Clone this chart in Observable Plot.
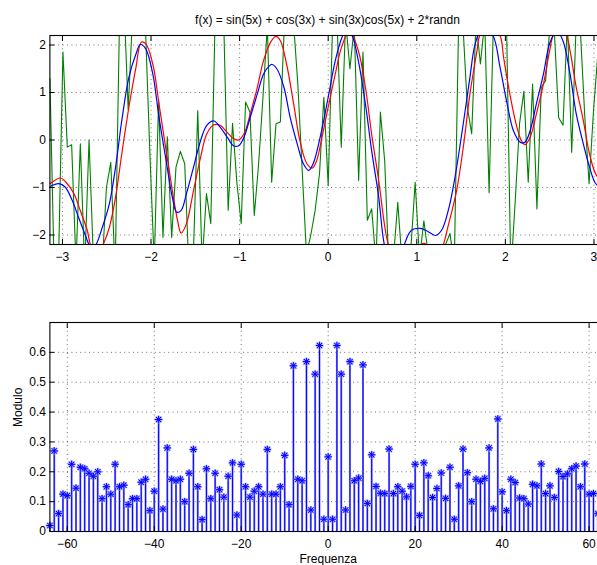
<!DOCTYPE html>
<html><head><meta charset="utf-8">
<script src="https://cdn.jsdelivr.net/npm/d3@7"></script>
<script src="https://cdn.jsdelivr.net/npm/@observablehq/plot@0.6"></script>
<style>
html,body{margin:0;padding:0;overflow:hidden;background:#fff;}
#wrap{position:relative;width:597px;height:565px;overflow:hidden;font-family:"Liberation Sans",Arial,sans-serif;}
#title{position:absolute;top:13px;left:0;width:655px;text-align:center;font-size:12px;line-height:14px;color:#000;z-index:2;}
#wrap svg{display:block;max-width:none !important;}
</style></head><body>
<div id="wrap"><div id="title">f(x) = sin(5x) + cos(3x) + sin(3x)cos(5x) + 2*randn</div><div id="top"></div><div id="bottom"></div></div>
<script>
// ---- top panel data ----
const noisyY = [1.3,-2.8,-2.5,1.85,-0.15,-0.1,-2.6,-0.08,-2.7,0.0,-2.5,-2.5,-2.7,-1.0,-0.47,-2.8,
 2.5,3.0,0.64,2.6,2.8,2.5,2.3,-0.3,-2.6,0.85,-2.05,0.07,-2.05,-0.57,-0.24,-0.5,
 -2.8,-2.4,0.62,-2.6,-1.13,-1.76,2.6,2.8,2.4,-1.48,0.35,-0.9,-1.76,0.8,0.59,-1.59,
 -0.5,0.9,2.4,-0.89,0.34,0.38,2.6,2.5,2.5,1.2,-0.6,-2.4,-2.0,-1.48,-0.71,0.9,
 -0.96,2.4,2.6,-0.15,2.5,1.5,2.4,-0.85,1.85,-1.69,-1.45,-2.6,0.59,-0.45,-2.8,-2.5,
 -1.31,-2.6,-2.4,-2.3,-0.89,-2.5,-1.7,-2.4,-2.5,-2.3,-2.5,-2.2,-1.97,-2.6,2.5,2.4,
 0.69,0.13,2.5,1.6,2.5,-1.11,2.5,2.6,2.5,2.5,-2.8,-1.3,0.34,1.03,-0.89,1.18,
 -1.45,1.11,1.25,2.4,2.3,0.47,0.31,2.5,-0.26,2.4,2.3,0.5,-0.92,0.6,1.8,1.0];
const noisyX = noisyY.map((_, k) => -Math.PI + k * 2 * Math.PI / 128);

const redX = [-3.1416,-3.02,-2.96,-2.87,-2.80,-2.72,-2.685,-2.61,-2.54,-2.47,-2.40,-2.33,-2.25,-2.17,-2.11,-2.06,-1.98,-1.91,-1.83,-1.76,-1.70,-1.66,-1.60,-1.52,-1.44,-1.37,-1.29,-1.22,-1.14,-1.07,-1.01,-0.95,-0.88,-0.80,-0.73,-0.65,-0.59,-0.54,-0.47,-0.39,-0.32,-0.24,-0.18,-0.13,-0.07,0.0,0.08,0.15,0.24,0.34,0.42,0.49,0.57,0.64,0.68,0.78,0.92,1.08,1.22,1.30,1.35,1.45,1.53,1.60,1.68,1.71,1.82,1.94,1.98,2.05,2.13,2.18,2.22,2.28,2.35,2.43,2.50,2.54,2.61,2.69,2.73,2.80,2.88,2.95,3.03,3.1416];
const redY = [-0.92,-0.8,-0.89,-1.13,-1.48,-1.9,-2.2,-2.45,-2.2,-1.84,-1.2,-0.29,0.69,1.53,2.06,2.03,1.6,0.76,-0.22,-1.06,-1.7,-1.96,-1.76,-1.06,-0.36,0.13,0.32,0.31,0.16,0.03,0.0,0.13,0.55,1.11,1.67,2.06,2.18,2.09,1.6,0.76,-0.01,-0.5,-0.59,-0.43,0.06,0.69,1.39,1.95,2.3,1.88,1.11,0.13,-0.85,-1.84,-2.2,-2.55,-2.5,-2.17,-2.5,-2.2,-1.84,-1.06,-0.08,0.97,1.88,2.2,2.5,2.2,1.74,0.97,0.27,-0.01,-0.1,0.06,0.55,1.18,1.88,2.2,2.35,2.2,1.88,1.11,0.41,-0.29,-0.75,-0.92];

const blueX = [-3.1416,-3.04,-2.97,-2.89,-2.82,-2.74,-2.70,-2.66,-2.62,-2.55,-2.47,-2.40,-2.33,-2.25,-2.17,-2.12,-2.06,-1.98,-1.91,-1.83,-1.76,-1.71,-1.66,-1.60,-1.52,-1.44,-1.37,-1.29,-1.22,-1.14,-1.07,-1.01,-0.95,-0.88,-0.80,-0.73,-0.67,-0.635,-0.58,-0.50,-0.43,-0.35,-0.28,-0.22,-0.17,-0.08,0.0,0.08,0.15,0.21,0.27,0.34,0.42,0.49,0.57,0.62,0.66,0.75,0.82,0.86,0.94,1.04,1.12,1.21,1.28,1.36,1.43,1.53,1.60,1.66,1.75,1.86,1.94,2.02,2.09,2.17,2.22,2.28,2.35,2.43,2.50,2.58,2.65,2.73,2.80,2.88,2.95,3.03,3.1416];
const blueY = [-0.98,-0.92,-0.99,-1.27,-1.62,-2.01,-2.2,-2.28,-2.2,-1.84,-1.34,-0.57,0.41,1.32,1.81,2.01,1.92,1.39,0.48,-0.43,-1.2,-1.52,-1.48,-1.13,-0.57,-0.01,0.31,0.4,0.27,0.06,-0.12,-0.12,0.06,0.48,0.97,1.39,1.55,1.59,1.5,1.11,0.48,-0.08,-0.5,-0.64,-0.5,0.15,0.9,1.67,2.13,2.35,2.2,1.67,0.76,-0.22,-1.2,-2.05,-2.4,-2.7,-2.5,-2.2,-1.9,-1.86,-1.92,-2.01,-1.9,-1.45,-0.8,0.41,1.32,2.03,2.4,2.2,1.53,0.76,0.2,-0.05,-0.05,0.2,0.76,1.39,2.03,2.3,2.09,1.39,0.55,-0.08,-0.57,-0.94,-1.0];

const topXTicks = [-3,-2,-1,0,1,2,3];
const topYTicks = [-2,-1,0,1,2];

// ---- bottom panel data ----
const freq = d3.range(-64, 64);
const modulo = [0.02,0.27,0.06,0.125,0.12,0.225,0.145,0.215,0.21,0.195,0.185,0.2,0.11,0.15,0.125,0.225,
 0.15,0.155,0.09,0.11,0.11,0.165,0.175,0.07,0.135,0.375,0.075,0.28,0.175,0.17,0.175,0.1,
 0.195,0.275,0.15,0.04,0.21,0.11,0.195,0.14,0.115,0.185,0.23,0.055,0.225,0.15,0.115,0.135,
 0.15,0.125,0.275,0.125,0.125,0.15,0.255,0.09,0.555,0.175,0.17,0.569,0.072,0.527,0.623,0.041,
 0.25,0.041,0.623,0.527,0.072,0.569,0.17,0.179,0.558,0.094,0.257,0.151,0.128,0.127,0.276,0.127,
 0.15,0.135,0.116,0.151,0.225,0.054,0.23,0.187,0.114,0.144,0.196,0.111,0.215,0.041,0.153,0.276,
 0.197,0.1,0.175,0.168,0.178,0.28,0.076,0.377,0.133,0.07,0.175,0.164,0.112,0.11,0.092,0.158,
 0.153,0.226,0.127,0.153,0.114,0.201,0.184,0.193,0.21,0.219,0.15,0.226,0.125,0.127,0.06,0.27];
const botXTicks = [-60,-40,-20,0,20,40,60];
const botYTicks = [0,0.1,0.2,0.3,0.4,0.5,0.6];

const noisy = noisyX.map((x, i) => ({x, y: noisyY[i]}));
const red = redX.map((x, i) => ({x, y: redY[i]}));
const blue = blueX.map((x, i) => ({x, y: blueY[i]}));
const stems = freq.map((f, i) => ({f, m: modulo[i]}));

const font = {fontFamily: "'Liberation Sans', Arial, sans-serif", fontSize: "12px", background: "#fff", color: "#000", overflow: "visible", maxWidth: "none"};
const grid = {stroke: "#000", strokeOpacity: 0.55, strokeDasharray: "1,3.4"};
const noText = () => "";
const fmt = d => String(d).replace("-", "\u2212");

function axes(xt, yt) {
  return [
    Plot.gridX(xt, grid),
    Plot.gridY(yt, grid),
    Plot.axisX(xt, {anchor: "bottom", tickSize: 0, tickPadding: 8, fontSize: 12, tickFormat: fmt}),
    Plot.axisY(yt, {anchor: "left", tickSize: 0, tickPadding: 4, fontSize: 12, tickFormat: fmt}),
  ];
}
function ticks(xt, yt) {
  return [
    Plot.axisX(xt, {anchor: "bottom", tickSize: -5, tickFormat: noText}),
    Plot.axisX(xt, {anchor: "top", tickSize: -5, tickFormat: noText}),
    Plot.axisY(yt, {anchor: "left", tickSize: -5, tickFormat: noText}),
    Plot.axisY(yt, {anchor: "right", tickSize: -5, tickFormat: noText}),
    Plot.frame({stroke: "#000", strokeWidth: 1.1})
  ];
}

const topChart = Plot.plot({
  width: 620, height: 265,
  marginLeft: 49.4, marginRight: 14, marginTop: 35, marginBottom: 21,
  style: font,
  x: {domain: [-Math.PI, Math.PI], label: null},
  y: {domain: [-2.2, 2.2], label: null},
  marks: [
    ...axes(topXTicks, topYTicks),
    Plot.line(noisy, {x: "x", y: "y", stroke: "#008000", strokeWidth: 1.1, clip: true}),
    Plot.line(red, {x: "x", y: "y", stroke: "#ff0000", strokeWidth: 1.2, curve: "catmull-rom", clip: true}),
    Plot.line(blue, {x: "x", y: "y", stroke: "#0000ff", strokeWidth: 1.2, curve: "catmull-rom", clip: true}),
    ...ticks(topXTicks, topYTicks)
  ]
});
document.getElementById("top").appendChild(topChart);

const star = {
  draw(ctx, size) {
    const r = Math.sqrt(size / Math.PI);
    const d = r * 0.72;
    ctx.moveTo(-r, 0); ctx.lineTo(r, 0);
    ctx.moveTo(0, -r); ctx.lineTo(0, r);
    ctx.moveTo(-d, -d); ctx.lineTo(d, d);
    ctx.moveTo(-d, d); ctx.lineTo(d, -d);
  }
};

const botChart = Plot.plot({
  width: 620, height: 300,
  marginLeft: 49.4, marginRight: 14, marginTop: 57, marginBottom: 34,
  style: font,
  x: {domain: [-64, 64], label: null},
  y: {domain: [0, 0.7], label: null},
  marks: [
    ...axes(botXTicks, botYTicks),
    Plot.ruleX(stems, {x: "f", y: "m", stroke: "#8080ff", strokeWidth: 2}),
    Plot.ruleX(stems, {x: "f", y: "m", stroke: "#0000ff", strokeWidth: 1}),
    Plot.dot(stems, {x: "f", y: "m", symbol: star, r: 4, stroke: "#9999ff", strokeWidth: 2, fill: "none"}),
    Plot.dot(stems, {x: "f", y: "m", symbol: star, r: 3.6, stroke: "#0000ff", strokeWidth: 1, fill: "none"}),
    Plot.text(["Modulo"], {frameAnchor: "left", dx: -32, rotate: -90, fontSize: 12, fill: "#000"}),
    Plot.text(["Frequenza"], {frameAnchor: "bottom", dy: 31, fontSize: 12, fill: "#000"}),
    ...ticks(botXTicks, botYTicks)
  ]
});
document.getElementById("bottom").appendChild(botChart);
</script>
</body></html>
